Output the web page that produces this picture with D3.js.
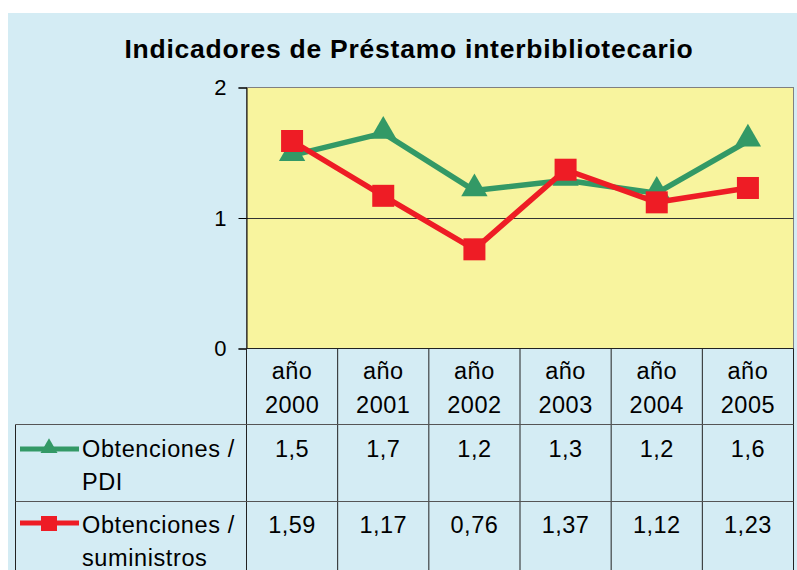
<!DOCTYPE html>
<html><head><meta charset="utf-8">
<script src="https://cdn.jsdelivr.net/npm/d3@7"></script>
<style>body{margin:0;background:#fff}svg{display:block}text{font-family:"Liberation Sans",Arial,sans-serif}</style>
</head><body>
<svg id="c" width="797" height="570"></svg>
<script>
const title = "Indicadores de Préstamo interbibliotecario";
const categories = ["año 2000","año 2001","año 2002","año 2003","año 2004","año 2005"];
const pdiValues = [1.48, 1.65, 1.21, 1.29, 1.19, 1.59];
const pdiLabels = ["1,5","1,7","1,2","1,3","1,2","1,6"];
const sumValues = [1.59, 1.17, 0.76, 1.37, 1.12, 1.23];
const sumLabels = ["1,59","1,17","0,76","1,37","1,12","1,23"];
const yTicks = [0, 1, 2];
const seriesNames = [["Obtenciones /","PDI"],["Obtenciones /","suministros"]];

const svg = d3.select("#c");
const W = 797, H = 570;
const bg = "#d4ecf4", plotBg = "#f8f49e", green = "#339966", red = "#ee1c25";
const L = 246.5, R = 793.5, T = 87.5, B = 348.5;
const rowY = [424.5, 501.5];

svg.append("rect").attr("x", 8).attr("y", 13).attr("width", W - 8).attr("height", H - 13).attr("fill", bg);

svg.append("text").attr("x", 409).attr("y", 58).attr("text-anchor", "middle")
  .attr("font-size", 26.5).attr("font-weight", "bold").attr("letter-spacing", 0.75).attr("fill", "#000").text(title);

const x = d3.scaleBand().domain(categories).range([L, R]);
const y = d3.scaleLinear().domain([0, 2]).range([B, T]);

svg.append("rect").attr("x", L).attr("y", T).attr("width", R - L).attr("height", B - T)
  .attr("fill", plotBg).attr("stroke", "#808080").attr("stroke-width", 1);

// gridline at 1
svg.append("g").selectAll("line").data(yTicks.filter(d => d > 0 && d < 2)).join("line")
  .attr("x1", L).attr("x2", R).attr("y1", d => Math.round(y(d)) + 0.5).attr("y2", d => Math.round(y(d)) + 0.5)
  .attr("stroke", "#333").attr("stroke-width", 1);

// y axis
const yAxis = svg.append("g").attr("transform", `translate(${L},0)`)
  .call(d3.axisLeft(y).tickValues(yTicks).tickFormat(d3.format("d")).tickSize(8).tickPadding(12));
yAxis.select(".domain").attr("stroke", "#000");
yAxis.selectAll(".tick line").attr("stroke", "#000");
yAxis.selectAll("text").attr("font-size", 22).attr("fill", "#000").attr("font-family", '"Liberation Sans",Arial,sans-serif');

// table lines
const tg = svg.append("g").attr("stroke", "#222").attr("stroke-width", 1).attr("fill", "none");
const bounds = categories.map(c => x(c)).concat([R]);
tg.selectAll("line.v").data(bounds).join("line").attr("class", "v")
  .attr("x1", d => d).attr("x2", d => d).attr("y1", B).attr("y2", H);
tg.append("line").attr("x1", 15.5).attr("x2", 15.5).attr("y1", rowY[0]).attr("y2", H);
tg.selectAll("line.h").data(rowY).join("line").attr("class", "h")
  .attr("x1", 15.5).attr("x2", R).attr("y1", d => d).attr("y2", d => d).attr("stroke", "#555");
tg.append("line").attr("x1", L).attr("x2", R).attr("y1", B).attr("y2", B).attr("stroke", "#222");

// header
const hdr = svg.append("g").attr("font-size", 23.5).attr("letter-spacing", 0.5).attr("text-anchor", "middle").attr("fill", "#000");
categories.forEach(c => {
  const parts = c.split(" ");
  hdr.append("text").attr("x", x(c) + x.bandwidth() / 2).attr("y", 379).text(parts[0]);
  hdr.append("text").attr("x", x(c) + x.bandwidth() / 2).attr("y", 413).text(parts[1]);
});

// values rows
const rows = [pdiLabels, sumLabels];
rows.forEach((labels, i) => {
  svg.append("g").attr("font-size", 23.5).attr("letter-spacing", 0.5).attr("text-anchor", "middle")
    .selectAll("text").data(labels).join("text")
    .attr("x", (d, j) => x(categories[j]) + x.bandwidth() / 2)
    .attr("y", 457 + i * 76).text(d => d);
  seriesNames[i].forEach((s, k) => {
    svg.append("text").attr("x", 82).attr("y", 457 + i * 76 + k * 33).attr("font-size", 23.5).attr("letter-spacing", 0.6).text(s);
  });
});

// legend keys
const tri = d3.symbol().type(d3.symbolTriangle);
svg.append("line").attr("x1", 20).attr("x2", 79).attr("y1", 449).attr("y2", 449).attr("stroke", green).attr("stroke-width", 5);
svg.append("path").attr("d", tri.size(125)()).attr("transform", "translate(49,448)").attr("fill", green);
svg.append("line").attr("x1", 20).attr("x2", 79).attr("y1", 523).attr("y2", 523).attr("stroke", red).attr("stroke-width", 5);
svg.append("rect").attr("x", 41).attr("y", 516).attr("width", 16).attr("height", 15).attr("fill", red);

// lines
const cx = (d, i) => x(categories[i]) + x.bandwidth() / 2;
const line = d3.line().x(cx).y(d => y(d));
svg.append("path").datum(pdiValues).attr("d", line).attr("fill", "none").attr("stroke", green).attr("stroke-width", 5.5).attr("stroke-linejoin", "round");
svg.append("g").selectAll("path").data(pdiValues).join("path")
  .attr("d", tri.size(300)())
  .attr("transform", (d, i) => `translate(${cx(d, i)},${y(d) - 2})`).attr("fill", green);
svg.append("path").datum(sumValues).attr("d", line).attr("fill", "none").attr("stroke", red).attr("stroke-width", 5.5).attr("stroke-linejoin", "round");
svg.append("g").selectAll("rect").data(sumValues).join("rect")
  .attr("x", (d, i) => cx(d, i) - 11).attr("y", d => y(d) - 11).attr("width", 22).attr("height", 22).attr("fill", red);
</script>
</body></html>
